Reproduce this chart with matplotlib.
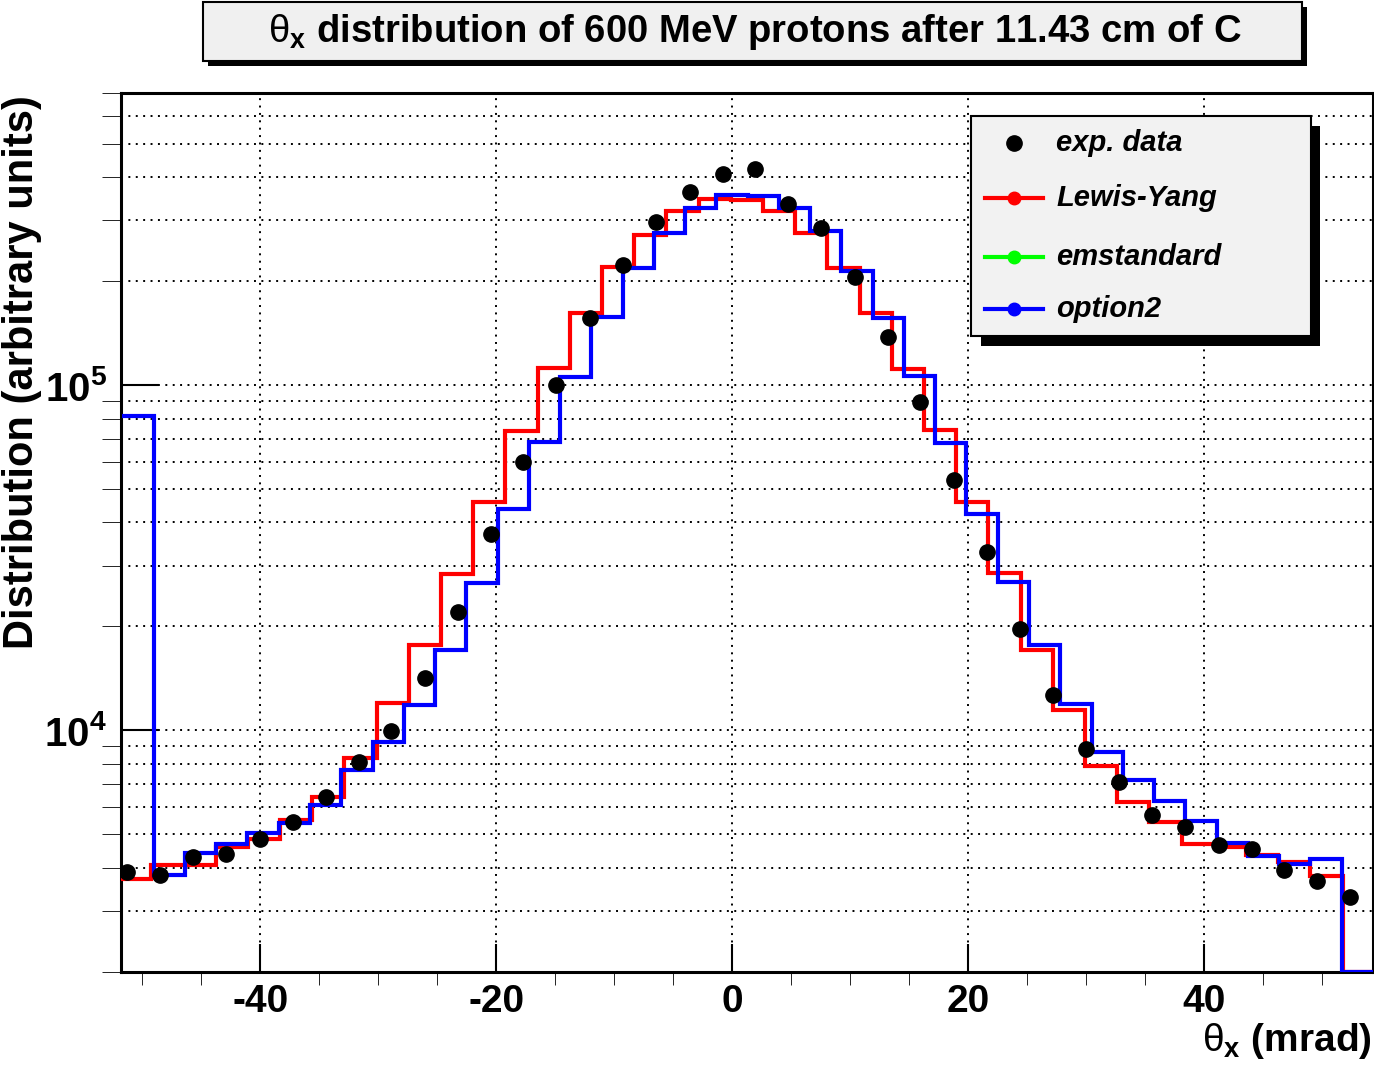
import numpy as np
import matplotlib.pyplot as plt
from matplotlib.patches import Rectangle
from matplotlib.lines import Line2D

plt.rcParams['font.family'] = ['Liberation Sans', 'DejaVu Sans']
plt.rcParams['mathtext.fontset'] = 'custom'
plt.rcParams['mathtext.rm'] = 'Liberation Sans'
plt.rcParams['mathtext.it'] = 'Liberation Sans:italic'
plt.rcParams['mathtext.bf'] = 'Liberation Sans:bold'

# --- data ---
# exp. data points: theta_x (mrad), counts
data_x = [-51.28, -48.54, -45.72, -42.88, -40.03, -37.23, -34.46, -31.66, -28.89, -26.06,
          -23.24, -20.47, -17.69, -14.89, -12.07, -9.25, -6.41, -3.59, -0.81, 1.95,
          4.75, 7.58, 10.41, 13.23, 15.96, 18.80, 21.58, 24.40, 27.23, 30.00,
          32.80, 35.57, 38.40, 41.26, 44.05, 46.79, 49.59, 52.42]
data_y = [3882, 3810, 4288, 4375, 4834, 5426, 6396, 8107, 9934, 14176,
          22070, 36950, 59840, 100280, 156000, 223200, 296500, 362200, 407400, 423400,
          333700, 284300, 206100, 138100, 89100, 53070, 32920, 19610, 12630, 8810,
          7070, 5684, 5237, 4645, 4531, 3950, 3653, 3299]

# Lewis-Yang histogram (uniform bins between red_lo and red_hi)
red_lo, red_hi = -51.98, 51.77
red_vals = [3720, 4073, 4073, 4592, 4834, 5499, 6397, 8297, 11973, 17630,
            28300, 45840, 73580, 112300, 162000, 219700, 271900, 319100, 345000, 343900,
            319100, 276300, 217800, 161300, 111600, 73920, 45840, 28490, 17080, 11430,
            7882, 6200, 5426, 4697, 4592, 4345, 4166, 3785]

# option2 histogram (uniform bins between blue_lo and blue_hi)
blue_lo, blue_hi = -51.70, 51.69
blue_vals = [81330, 3810, 4404, 4697, 5055, 5404, 6065, 7659, 9231, 11820,
             17080, 26770, 43650, 68570, 105800, 157600, 217800, 275000, 324900, 355100,
             352000, 326400, 279300, 213900, 156800, 106200, 68110, 42420, 26880, 17630,
             11890, 8675, 7165, 6241, 5462, 4728, 4325, 4111, 4250]

x_min, x_max = -51.82, 54.35
y_min, y_max = 2e3, 7e5
x_major = [-40, -20, 0, 20, 40]
x_major_labels = ['-40', '-20', '0', '20', '40']
x_minor = np.arange(-50, 55, 5)
y_major = [1e4, 1e5]
y_major_labels = [r'$\mathbf{10^{4}}$', r'$\mathbf{10^{5}}$']
y_minor = [m * 10.0 ** e for e in (3, 4, 5) for m in range(2, 10) if m * 10.0 ** e <= y_max]

title = r'$\mathrm{\theta}_{\mathbf{x}}$ distribution of 600 MeV protons after 11.43 cm of C'
legend_labels = ['exp. data', 'Lewis-Yang', 'emstandard', 'option2']
legend_colors = ['black', 'red', '#00ff00', 'blue']

# --- figure ---
W, H = 1374, 1068
fig = plt.figure(figsize=(W / 100, H / 100), dpi=100)

def fx(px):
    return px / W

def fy(py):
    return 1 - py / H

ax = fig.add_axes([fx(121), fy(971.7), fx(1373) - fx(121), fy(93.3) - fy(971.7)])
ax.set_yscale('log')
ax.set_xlim(x_min, x_max)
ax.set_ylim(y_min, y_max)

dots = (0, (1, 2.8))
ax.grid(True, axis='x', which='major', ls=dots, color='black', lw=1.4)
ax.grid(True, axis='y', which='both', ls=dots, color='black', lw=1.4)
ax.set_axisbelow(True)

red_edges = np.linspace(red_lo, red_hi, len(red_vals) + 1)
blue_edges = np.linspace(blue_lo, blue_hi, len(blue_vals) + 1)
ax.stairs(list(red_vals) + [y_min], list(red_edges) + [x_max], baseline=None,
          color='red', lw=3, joinstyle='miter', zorder=3)
ax.stairs(list(blue_vals) + [y_min], list(blue_edges) + [x_max], baseline=None,
          color='blue', lw=3, joinstyle='miter', zorder=4)
ax.plot(data_x, data_y, 'o', color='black', ms=11, zorder=5)

ax.set_xticks(x_major)
ax.set_xticklabels(x_major_labels, fontsize=28, fontweight='bold')
ax.set_xticks(x_minor, minor=True)
ax.set_yticks(y_major)
ax.set_yticklabels(y_major_labels, fontsize=29)
ax.set_yticks(y_minor, minor=True)
ax.set_yticklabels([], minor=True)
ax.tick_params(direction='in', top=False, right=False, width=1.5, color='black')
ax.tick_params(axis='x', which='major', length=20, pad=9)
ax.tick_params(axis='x', which='minor', length=9.5)
ax.tick_params(axis='y', which='major', length=27, pad=10)
ax.tick_params(axis='y', which='minor', length=13.7)
for s in ax.spines.values():
    s.set_linewidth(2.2)

# axis titles
fig.text(fx(22), fy(95), 'Distribution (arbitrary units)', rotation=90,
         ha='center', va='top', fontsize=30, fontweight='bold')
fig.text(fx(1372), fy(1041), r'$\mathrm{\theta}_{\mathbf{x}}$ (mrad)',
         ha='right', va='center', fontsize=28, fontweight='bold')

# title box with shadow
fig.add_artist(Rectangle((fx(208), fy(66)), (1307 - 208) / W, (66 - 7) / H,
                         transform=fig.transFigure, facecolor='black', edgecolor='none'))
fig.add_artist(Rectangle((fx(203), fy(61)), (1302 - 203) / W, (61 - 2) / H,
                         transform=fig.transFigure, facecolor='#f0f0f0',
                         edgecolor='black', lw=1.5))
fig.text(fx(755), fy(32), title, ha='center', va='center', fontsize=27.5, fontweight='bold')

# legend box with shadow
fig.add_artist(Rectangle((fx(981), fy(346)), (1320 - 981) / W, (346 - 126) / H,
                         transform=fig.transFigure, facecolor='black', edgecolor='none'))
fig.add_artist(Rectangle((fx(971), fy(336)), (1311 - 971) / W, (336 - 116) / H,
                         transform=fig.transFigure, facecolor='#f2f2f2',
                         edgecolor='black', lw=1.5))
entry_y = [143, 198, 257, 309]
for lab, col, ey in zip(legend_labels, legend_colors, entry_y):
    if lab == 'exp. data':
        fig.add_artist(Line2D([fx(1014)], [fy(ey)], marker='o', ms=11, color=col,
                              ls='none', transform=fig.transFigure))
    else:
        fig.add_artist(Line2D([fx(985), fx(1014), fx(1043)], [fy(ey)] * 3, color=col,
                              lw=3, marker='o', ms=9, markevery=[1],
                              transform=fig.transFigure))
    fig.text(fx(1056), fy(ey), lab, ha='left', va='center', fontsize=21,
             fontweight='bold', fontstyle='italic')

fig.savefig('out.png', dpi=100)
